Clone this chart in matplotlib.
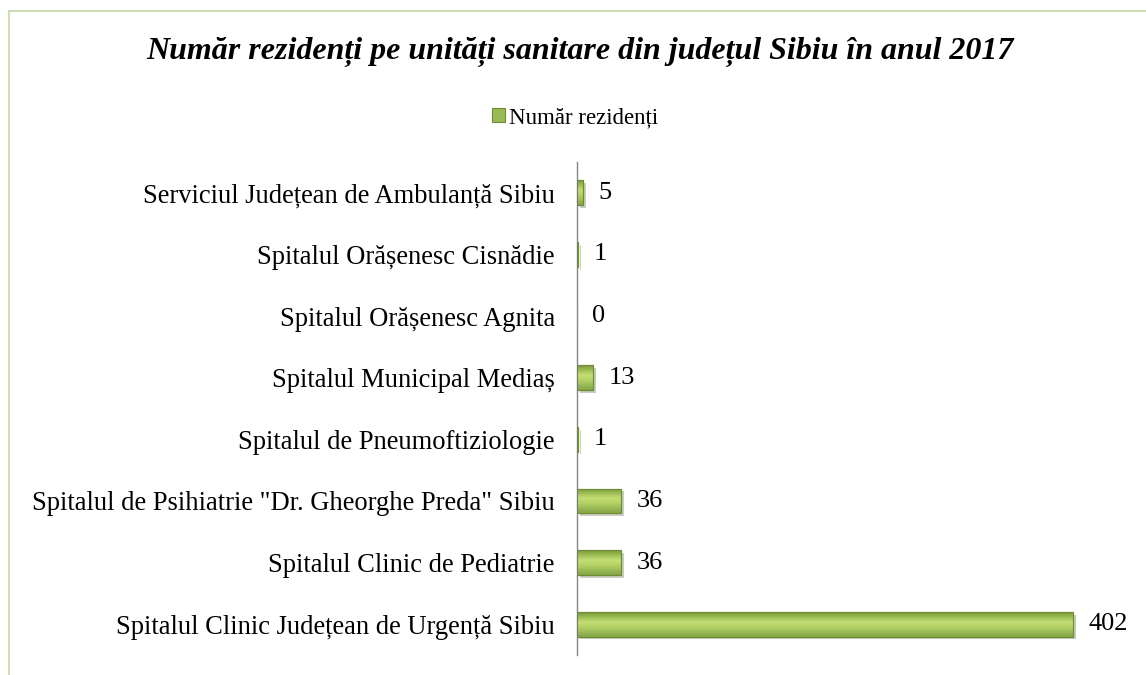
import numpy as np
import matplotlib as mpl
mpl.use("Agg")
import matplotlib.pyplot as plt
import matplotlib.patheffects as pe
from matplotlib.colors import LinearSegmentedColormap
from matplotlib.patches import Patch, Rectangle

CATEGORIES = [
    "Spitalul Clinic Județean de Urgență Sibiu",
    "Spitalul Clinic de Pediatrie",
    "Spitalul de Psihiatrie \"Dr. Gheorghe Preda\" Sibiu",
    "Spitalul de Pneumoftiziologie",
    "Spitalul Municipal Mediaș",
    "Spitalul Orășenesc Agnita",
    "Spitalul Orășenesc Cisnădie",
    "Serviciul Județean de Ambulanță Sibiu",
]
VALUES = [402, 36, 36, 1, 13, 0, 1, 5]
SERIES_NAME = "Număr rezidenți"
TITLE = "Număr rezidenți pe unități sanitare din județul Sibiu în anul 2017"

BAR_COLOR = "#9BBB59"
BAR_EDGE = "#6E8C33"
FONT = ["Liberation Serif", "DejaVu Serif"]
GRAD = LinearSegmentedColormap.from_list(
    "bevel", ["#7A9838", "#9DBE55", "#C4DE74", "#B5D266", "#9BBB59", "#86A544"])

plt.rcParams["font.family"] = FONT

fig = plt.figure(figsize=(11.46, 6.75), dpi=100)
fig.patches.append(Rectangle((9 / 1146, -0.1), 1.2, 1 - 11 / 675 + 0.1,
                             transform=fig.transFigure, fill=False,
                             edgecolor="#C5D9A0", linewidth=1.2))

ax = fig.add_axes([577 / 1146, 20 / 675, 0.4845, 493 / 675])
y = np.arange(len(CATEGORIES))

shadow = [pe.SimplePatchShadow(offset=(2, -2), alpha=0.25), pe.Normal()]
bars = ax.barh(y, VALUES, height=0.4, color=BAR_COLOR, edgecolor=BAR_EDGE,
               linewidth=0.8, zorder=2)
grad = np.linspace(0, 1, 64).reshape(-1, 1)
for b in bars:
    b.set_path_effects(shadow)
    if b.get_width() > 0:
        x0, y0 = b.get_x(), b.get_y()
        im = ax.imshow(grad, cmap=GRAD, aspect="auto", origin="upper",
                       extent=(x0, x0 + b.get_width(), y0, y0 + b.get_height()),
                       zorder=3, interpolation="bicubic")
        im.set_clip_path(b)
        ax.add_patch(Rectangle((x0, y0), b.get_width(), b.get_height(),
                               fill=False, edgecolor=BAR_EDGE, linewidth=0.8, zorder=4))

for yi, v in zip(y, VALUES):
    ax.annotate(str(v), (v, yi), xytext=(11, 0), textcoords="offset points",
                ha="left", va="center", fontsize=19, family=FONT)

ax.set_xlim(0, 450)
ax.set_ylim(-0.5, len(CATEGORIES) - 0.5)
ax.set_yticks(y)
ax.set_yticklabels(CATEGORIES, fontsize=19.1)
ax.tick_params(axis="y", length=0, pad=16)
ax.set_xticks([])
for side in ["top", "right", "bottom"]:
    ax.spines[side].set_visible(False)
ax.spines["left"].set_color("#868686")
ax.spines["left"].set_linewidth(1.0)

fig.text(0.506, 1 - 52 / 675, TITLE, ha="center", va="center", fontsize=23,
         fontweight="bold", fontstyle="italic")

handle = Patch(facecolor=BAR_COLOR, edgecolor=BAR_EDGE, linewidth=0.8)
fig.legend(handles=[handle], labels=[SERIES_NAME], loc="center",
           bbox_to_anchor=(0.502, 1 - 118 / 675), frameon=False, fontsize=16.5,
           handlelength=0.55, handleheight=0.55, handletextpad=0.2)

fig.savefig("out.png", dpi=100)
